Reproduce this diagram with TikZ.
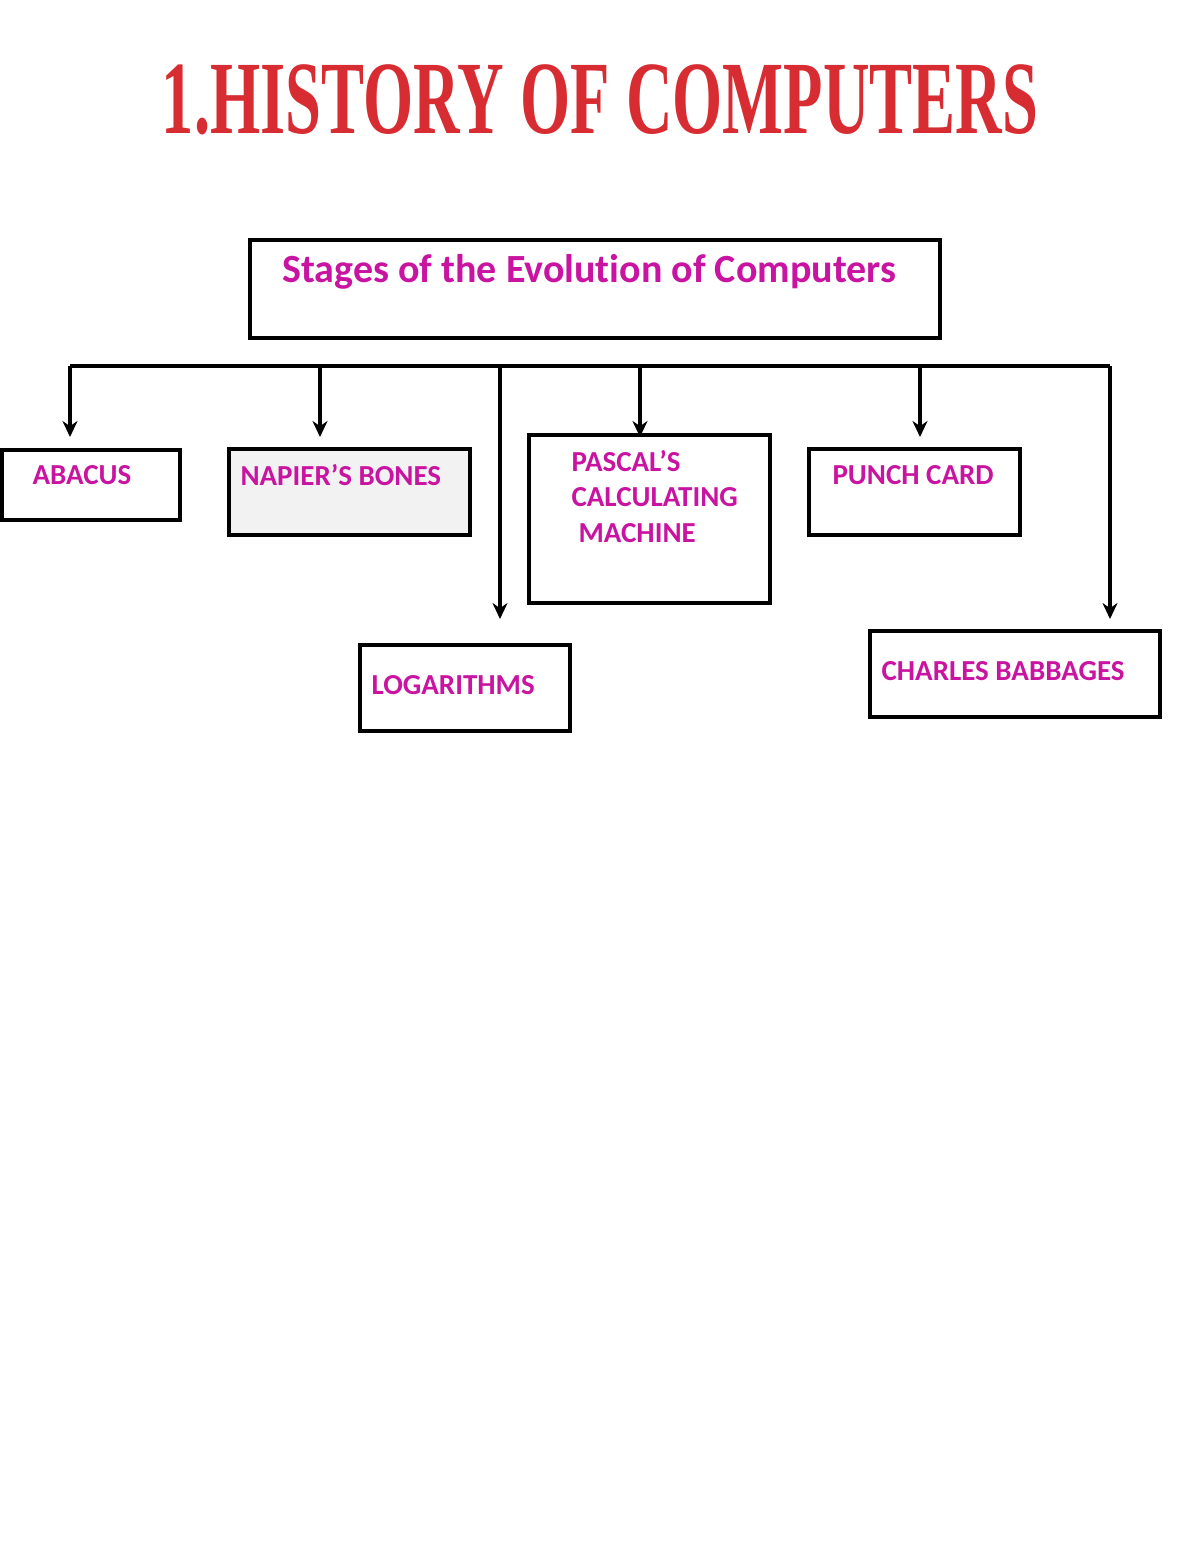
\documentclass[tikz,border=0pt]{standalone}
\usepackage{fontspec}
\setmainfont[Ligatures={NoCommon}]{Carlito}
\newfontfamily\titlefont{Liberation Serif}
\usetikzlibrary{arrows.meta}
\definecolor{mag}{RGB}{200,20,160}
\definecolor{tred}{RGB}{215,45,50}
\begin{document}
\begin{tikzpicture}[x=1pt,y=-1pt,
  box/.style={draw,line width=3.5pt},
  lbl/.style={text=mag,font=\bfseries\fontsize{29}{36}\selectfont,anchor=west},
  arr/.style={line width=3.5pt,-{Stealth[length=16pt,width=15pt]}}]
\useasboundingbox (0,0) rectangle (1200,1553);
\node[text=tred,font=\titlefont\bfseries\fontsize{104}{108}\selectfont,xscale=0.62] (title) at (600,100) {1.HISTORY OF COMPUTERS};
\draw[box] (250,240) rectangle (940,338);
\node[lbl,font=\bfseries\fontsize{40}{44}\selectfont] (main) at (279,272) {Stages of the Evolution of Computers};
\draw[box] (2,450) rectangle (180,520);
\node[lbl] (abacus) at (29,475) {ABACUS};
\draw[box,fill=black!5] (229,449) rectangle (470,535);
\node[lbl] (napier) at (237,475) {NAPIER’S BONES};
\draw[box] (529,435) rectangle (770,603);
\node[lbl] (p1) at (568,461) {PASCAL’S};
\node[lbl] (p2) at (568,497) {CALCULATING};
\node[lbl] (p3) at (575,533) {MACHINE};
\draw[box] (809,449) rectangle (1020,535);
\node[lbl] (punch) at (829,475) {PUNCH CARD};
\draw[box] (360,645) rectangle (570,731);
\node[lbl] (log) at (368,685) {LOGARITHMS};
\draw[box] (870,631) rectangle (1160,717);
\node[lbl] (charles) at (878,671) {CHARLES BABBAGES};
\coordinate (hl) at (70,366); \coordinate (hr) at (1110,366);
\draw[line width=3.5pt] (hl) -- (hr);
\foreach \x/\y in {70/437,320/437,500/619,640/437,920/437,1110/619}
  \draw[arr] (\x,366) -- (\x,\y);
\end{tikzpicture}
\end{document}
